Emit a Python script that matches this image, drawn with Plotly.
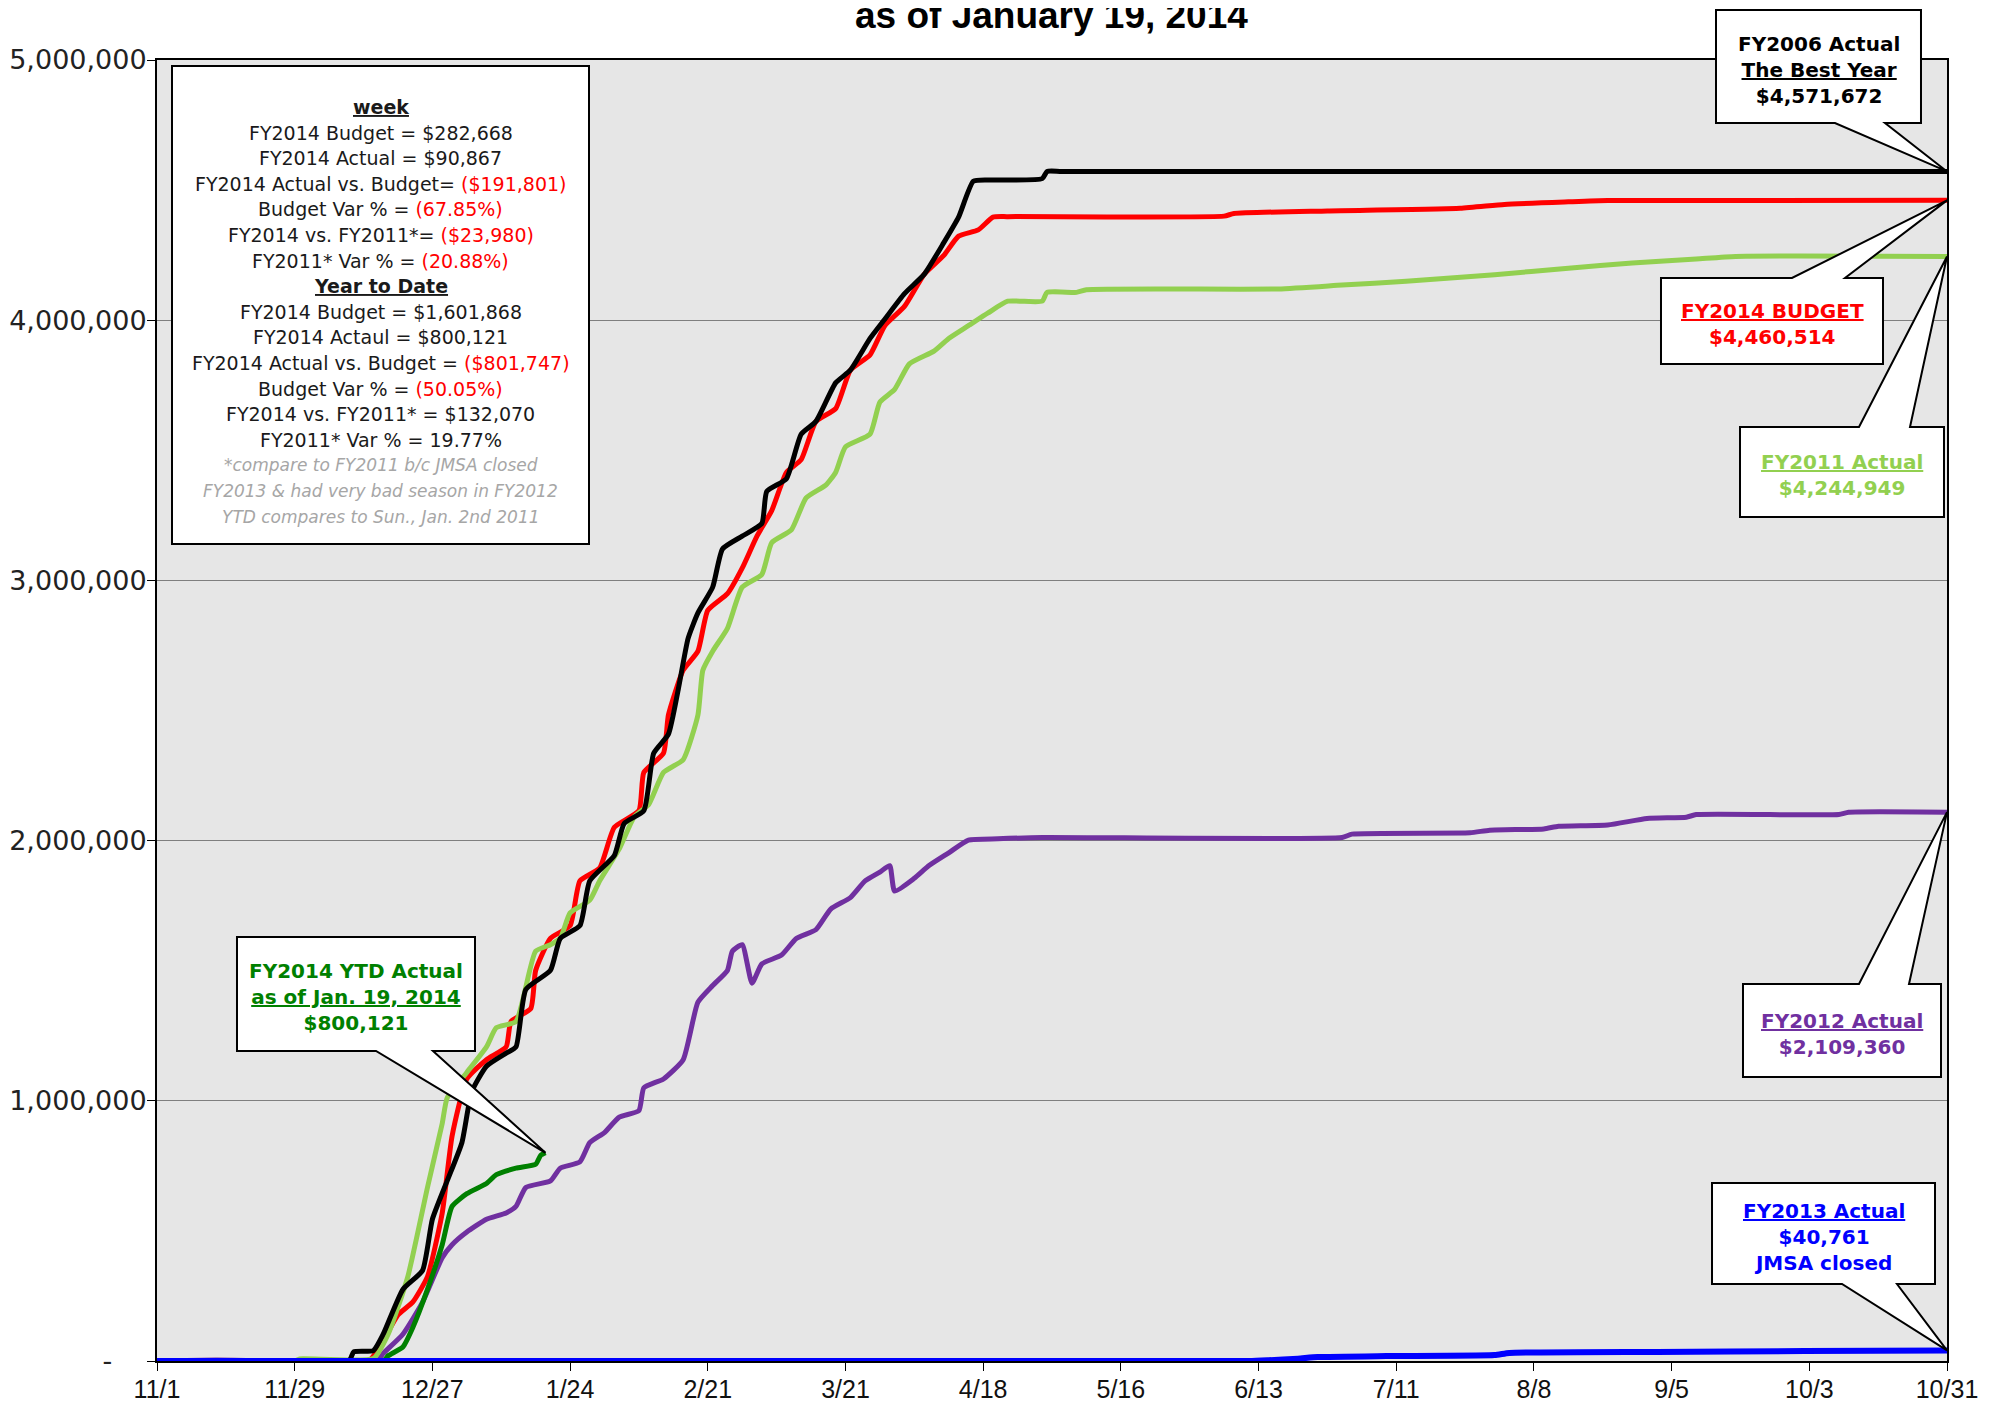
import plotly.graph_objects as go

# x = days counted from Nov 1 (fiscal year start)
tick_days = [0, 28, 56, 84, 112, 140, 168, 196, 224, 252, 280, 308, 336, 364]
tick_labels = ["11/1", "11/29", "12/27", "1/24", "2/21", "3/21", "4/18",
               "5/16", "6/13", "7/11", "8/8", "9/5", "10/3", "10/31"]
y_ticks = [0, 1000000, 2000000, 3000000, 4000000, 5000000]
y_tick_labels = ["-\u00a0\u00a0\u00a0\u00a0", "1,000,000", "2,000,000",
                 "3,000,000", "4,000,000", "5,000,000"]

# FY2006 actual (best year)
fy2006_day = [0, 39, 40, 44, 46, 50, 54, 56, 59, 62, 64, 67, 71, 73, 75, 80, 82, 86, 88, 93,
              95, 99, 101, 104, 106, 108, 110, 113, 115, 119, 123, 124, 128, 131, 134, 138,
              141, 145, 148, 152, 156, 160, 163, 166, 169, 180, 181, 184, 364]
fy2006_val = [0, 0, 35000, 40000, 103000, 275000, 348000, 545000, 692000, 839000, 1035000,
              1133000, 1183000, 1207000, 1428000, 1501000, 1624000, 1673000, 1845000, 1943000,
              2066000, 2115000, 2336000, 2409000, 2581000, 2777000, 2875000, 2974000, 3121000,
              3170000, 3219000, 3342000, 3391000, 3562000, 3611000, 3759000, 3808000, 3930000,
              4004000, 4102000, 4176000, 4298000, 4396000, 4534000, 4539000, 4544000, 4571672,
              4571672, 4571672]

# FY2014 budget
budget_day = [0, 43, 46, 49, 52, 55, 58, 60, 63, 67, 71, 72, 76, 77, 80, 84, 86, 90, 93, 98,
              99, 103, 104, 107, 110, 112, 116, 119, 122, 125, 128, 131, 134, 138, 141, 145,
              148, 152, 156, 160, 163, 167, 170, 173, 217, 219, 238, 265, 274, 287, 295, 364]
budget_val = [0, 0, 79000, 177000, 226000, 324000, 569000, 864000, 1084000, 1158000, 1207000,
              1305000, 1354000, 1501000, 1624000, 1673000, 1845000, 1894000, 2051000, 2115000,
              2262000, 2336000, 2483000, 2655000, 2728000, 2885000, 2949000, 3047000, 3170000,
              3268000, 3415000, 3464000, 3611000, 3660000, 3808000, 3867000, 3979000, 4053000,
              4176000, 4249000, 4323000, 4347000, 4396000, 4398000, 4400000, 4410000, 4420000,
              4430000, 4445000, 4455000, 4460000, 4460514]

# FY2011 actual
fy2011_day = [0, 28, 29, 44, 47, 51, 55, 58, 59, 63, 67, 69, 73, 77, 80, 82, 84, 88, 90, 94,
              97, 100, 103, 107, 110, 111, 113, 116, 119, 123, 125, 129, 132, 136, 138, 140,
              145, 147, 150, 153, 158, 161, 165, 169, 173, 180, 181, 187, 189, 228, 241, 254,
              272, 287, 300, 313, 321, 364]
fy2011_val = [0, 0, 8000, 10000, 103000, 324000, 667000, 913000, 1011000, 1109000, 1207000,
              1281000, 1305000, 1575000, 1600000, 1624000, 1722000, 1771000, 1845000, 1968000,
              2090000, 2139000, 2262000, 2311000, 2483000, 2655000, 2728000, 2816000, 2974000,
              3023000, 3145000, 3194000, 3317000, 3366000, 3415000, 3513000, 3562000, 3685000,
              3734000, 3832000, 3881000, 3930000, 3979000, 4028000, 4073000, 4073000, 4107000,
              4107000, 4117000, 4120000, 4135000, 4150000, 4175000, 4200000, 4220000, 4235000,
              4245000, 4244949]

# FY2012 actual
fy2012_day = [0, 12, 45, 46, 50, 54, 58, 60, 63, 67, 71, 73, 75, 80, 82, 86, 88, 91, 94, 98,
              99, 103, 107, 110, 113, 116, 117, 119, 121, 123, 127, 130, 134, 137, 141, 144,
              147, 149, 150, 154, 157, 161, 165, 171, 180, 241, 243, 267, 271, 282, 285, 295,
              303, 311, 313, 342, 344, 364]
fy2012_val = [0, 4000, 5000, 29000, 103000, 226000, 397000, 447000, 496000, 545000, 569000,
              594000, 667000, 692000, 741000, 765000, 839000, 878000, 937000, 962000, 1050000,
              1084000, 1158000, 1379000, 1443000, 1501000, 1575000, 1600000, 1452000, 1526000,
              1560000, 1624000, 1658000, 1737000, 1781000, 1845000, 1879000, 1904000, 1806000,
              1855000, 1904000, 1953000, 2002000, 2007000, 2012000, 2012000, 2025000, 2030000,
              2040000, 2045000, 2055000, 2060000, 2085000, 2090000, 2100000, 2100000, 2109000,
              2109360]

# FY2013 actual (JMSA closed)
fy2013_day = [0, 222, 226, 232, 236, 250, 272, 275, 305, 335, 364]
fy2013_val = [0, 0, 3000, 9000, 15000, 19000, 23000, 31000, 35000, 38000, 40761]

# FY2014 YTD actual
ytd_day = [0, 46, 47, 50, 52, 55, 58, 60, 63, 67, 69, 73, 77, 78, 79]
ytd_val = [0, 0, 20000, 54000, 128000, 275000, 447000, 594000, 643000, 682000, 716000,
           741000, 756000, 790000, 800121]

stats_lines = [
    "<b><u>week</u></b>",
    "FY2014 Budget = $282,668",
    "FY2014 Actual = $90,867",
    "FY2014 Actual vs. Budget= <span style='color:#FF0000'>($191,801)</span>",
    "Budget Var % = <span style='color:#FF0000'>(67.85%)</span>",
    "FY2014 vs. FY2011*= <span style='color:#FF0000'>($23,980)</span>",
    "FY2011* Var % = <span style='color:#FF0000'>(20.88%)</span>",
    "<b><u>Year to Date</u></b>",
    "FY2014 Budget = $1,601,868",
    "FY2014 Actaul = $800,121",
    "FY2014 Actual vs. Budget = <span style='color:#FF0000'>($801,747)</span>",
    "Budget Var % = <span style='color:#FF0000'>(50.05%)</span>",
    "FY2014 vs. FY2011* = $132,070",
    "FY2011* Var % = 19.77%",
]
note_lines = [
    "*compare to FY2011 b/c JMSA closed",
    "FY2013 & had very bad season in FY2012",
    "YTD compares to Sun., Jan. 2nd 2011",
]

# page geometry (pixels, page coords); the html body adds an 8px margin
PAGE_W, PAGE_H = 2002, 1410
OFF = 8
W, H = PAGE_W - 2 * OFF, PAGE_H - 2 * OFF
L, R, T, B = 157, 1947, 60, 1361
X_MAX, Y_MAX = 364, 5000000


def px(x, y):
    return (x - L) / (R - L), (B - y) / (B - T)


def callout(box, base, side, tip):
    x0, y0, x1, y1 = box
    b0, b1 = base
    tip_p = (tip[0] / X_MAX, tip[1] / Y_MAX)
    if side == "bottom":
        pts = [px(x0, y0), px(x1, y0), px(x1, y1), px(b1, y1), tip_p, px(b0, y1), px(x0, y1)]
    else:
        pts = [px(x0, y0), px(b0, y0), tip_p, px(b1, y0), px(x1, y0), px(x1, y1), px(x0, y1)]
    path = "M " + " L ".join("%.5f,%.5f" % p for p in pts) + " Z"
    return dict(type="path", xref="paper", yref="paper", path=path,
                fillcolor="white", line=dict(color="black", width=2), layer="above")


fig = go.Figure()

series = [
    (fy2012_day, fy2012_val, "#7030A0", 5, "FY2012 Actual"),
    (budget_day, budget_val, "#FF0000", 5, "FY2014 Budget"),
    (fy2011_day, fy2011_val, "#92D050", 5, "FY2011 Actual"),
    (fy2006_day, fy2006_val, "#000000", 5, "FY2006 Actual"),
    (ytd_day, ytd_val, "#008000", 5, "FY2014 YTD Actual"),
    (fy2013_day, fy2013_val, "#0000FF", 6, "FY2013 Actual"),
]
for d, v, c, w, name in series:
    fig.add_trace(go.Scatter(x=d, y=v, mode="lines", name=name,
                             line=dict(color=c, width=w, shape="spline", smoothing=0.5)))

shapes = []
annotations = []

# stats box
sx0, sy0 = px(172, 66)
sx1, sy1 = px(589, 544)
shapes.append(dict(type="rect", xref="paper", yref="paper", x0=sx0, y0=sy1, x1=sx1, y1=sy0,
                   fillcolor="white", line=dict(color="black", width=2), layer="above"))
cx = px(380.5, 0)[0]
for i, line in enumerate(stats_lines + note_lines):
    y = 107 + i * 25.6
    note = i >= len(stats_lines)
    annotations.append(dict(
        xref="paper", yref="paper", x=cx, y=px(0, y)[1], xanchor="center", yanchor="middle",
        text=("<i>%s</i>" % line) if note else line, showarrow=False,
        font=dict(family="DejaVu Sans", size=17 if note else 19,
                  color="#A6A6A6" if note else "#1A1A1A")))

callouts = [
    ((1716, 10, 1921, 123), (1835, 1885), "bottom", (fy2006_day[-1], fy2006_val[-1]),
     "FY2006 Actual<br><u>The Best Year</u><br>$4,571,672", "#000000"),
    ((1661, 278, 1883, 364), (1792, 1845), "top", (budget_day[-1], budget_val[-1]),
     "<u>FY2014 BUDGET</u><br>$4,460,514", "#FF0000"),
    ((1740, 427, 1944, 517), (1859, 1910), "top", (fy2011_day[-1], fy2011_val[-1]),
     "<u>FY2011 Actual</u><br>$4,244,949", "#92D050"),
    ((1743, 984, 1941, 1077), (1859, 1909), "top", (fy2012_day[-1], fy2012_val[-1]),
     "<u>FY2012 Actual</u><br>$2,109,360", "#7030A0"),
    ((1712, 1183, 1935, 1284), (1842, 1897), "bottom", (fy2013_day[-1], fy2013_val[-1]),
     "<u>FY2013 Actual</u><br>$40,761<br>JMSA closed", "#0000FF"),
    ((237, 937, 475, 1051), (376, 433), "bottom", (ytd_day[-1], ytd_val[-1]),
     "FY2014 YTD Actual<br><u>as of Jan. 19, 2014</u><br>$800,121", "#008000"),
]
for box, base, side, tip, text, color in callouts:
    shapes.append(callout(box, base, side, tip))
    bx, by = px((box[0] + box[2]) / 2, (box[1] + box[3]) / 2 + 3)
    annotations.append(dict(xref="paper", yref="paper", x=bx, y=by, xanchor="center",
                            yanchor="middle", text="<b>%s</b>" % text, showarrow=False,
                            font=dict(family="DejaVu Sans", size=20, color=color)))

# title (its first line is cut off at the top in the original)
tx, ty = px(1051, 15)
annotations.append(dict(xref="paper", yref="paper", x=tx, y=ty, xanchor="center",
                        yanchor="middle", text="<b>as of January 19, 2014</b>", showarrow=False,
                        font=dict(family="Liberation Sans", size=37, color="black")))

fig.update_layout(
    width=W, height=H,
    margin=dict(l=L - OFF, r=PAGE_W - OFF - R, t=T - OFF, b=PAGE_H - OFF - B, pad=0),
    paper_bgcolor="white",
    plot_bgcolor="#E6E6E6",
    showlegend=False,
    shapes=shapes,
    annotations=annotations,
    xaxis=dict(range=[0, X_MAX], tickvals=tick_days, ticktext=tick_labels,
               automargin=False, showgrid=False, zeroline=False, showline=True, mirror=True,
               linecolor="black", linewidth=2, ticks="outside", ticklen=8,
               tickcolor="black", tickwidth=1, ticklabelstandoff=-3,
               tickfont=dict(family="Liberation Sans", size=25, color="#111111")),
    yaxis=dict(range=[0, Y_MAX], tickvals=y_ticks, ticktext=y_tick_labels,
               automargin=False, showgrid=True, gridcolor="#7F7F7F", gridwidth=1,
               zeroline=False, showline=True, mirror=True, linecolor="black", linewidth=2,
               ticks="outside", ticklen=8, tickcolor="black", tickwidth=1,
               ticklabelstandoff=-5,
               tickfont=dict(family="DejaVu Sans", size=27, color="#222222")),
)

fig.write_html("out.html")
